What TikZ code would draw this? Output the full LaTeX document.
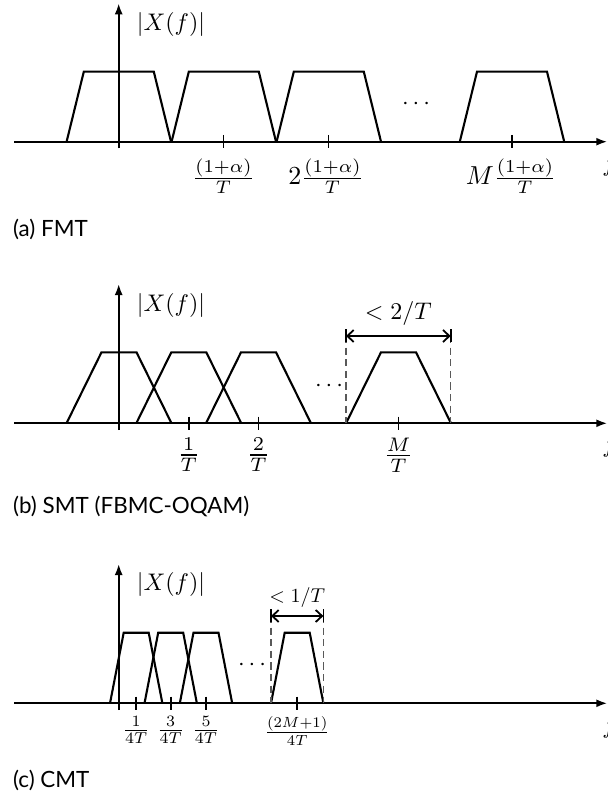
\documentclass[tikz,border=0pt]{standalone}
\usepackage{fontspec}
\newfontfamily\capfont{Lato}
\usetikzlibrary{arrows.meta}
\newcommand\myfs[1]{\fontsize{#1}{#1}\selectfont}
\tikzset{
  axisline/.style={line width=1pt,-{Latex[length=5.5pt,width=4pt]}},
  spec/.style={line width=1.05pt,line join=miter},
  tickline/.style={line width=0.9pt},
  dashline/.style={line width=0.7pt,draw=black!65,dash pattern=on 3.6pt off 2.2pt},
  dimline/.style={line width=0.9pt,{Straight Barb[length=3.2pt,width=6pt]}-{Straight Barb[length=3.2pt,width=6pt]}},
  barline/.style={line width=0.9pt},
  caption/.style={anchor=west,inner sep=0pt,font=\capfont\myfs{11.2}},
  lbl/.style={inner sep=0pt,scale=#1/10},
}
\begin{document}
\begin{tikzpicture}[x=0.5pt,y=-0.5pt]
\useasboundingbox (0,0) rectangle (608,796);
% ================= panel (a) =================
\draw[axisline] (14,141.7) -- (607.3,141.7);
\draw[axisline] (118.7,148.4) -- (118.7,3.3);
\node[lbl=12] (ya) at (171,25) {$|X(f)|$};
\node[lbl=12,anchor=west] (fa) at (602,166) {$f$};
\foreach \c in {118.8,223.8,328.8,512}{
  \draw[spec] (\c-52.2,141.7) -- (\c-35,71.7) -- (\c+35,71.7) -- (\c+52.2,141.7);
}
\foreach \c in {223.5,328.5,512}{
  \draw[tickline] (\c,135) -- (\c,148.4);
}
\node[lbl=13] (a1) at (223.5,176) {$\frac{(1+\alpha)}{T}$};
\node[lbl=13] (a2) at (326,176) {$2\frac{(1+\alpha)}{T}$};
\node[lbl=13] (a3) at (511,176) {$M\frac{(1+\alpha)}{T}$};
\node[lbl=12] (da) at (416,104) {$\cdots$};
\node[caption] (ca) at (12.7,229.3) {(a) FMT};
% ================= panel (b) =================
\draw[axisline] (14,423.3) -- (607.3,423.3);
\draw[axisline] (118.7,430) -- (118.7,284);
\node[lbl=12] (yb) at (171,305) {$|X(f)|$};
\node[lbl=12,anchor=west] (fb) at (602,446) {$f$};
\foreach \c in {119,188.8,258.5,398.5}{
  \draw[spec] (\c-52.5,423.3) -- (\c-17.5,352.3) -- (\c+17.5,352.3) -- (\c+52.5,423.3);
}
\foreach \c in {188.8,258.5,398.5}{
  \draw[tickline] (\c,416.6) -- (\c,430);
}
\node[lbl=14] (b1) at (188.8,455) {$\frac{1}{T}$};
\node[lbl=14] (b2) at (258.5,455) {$\frac{2}{T}$};
\node[lbl=14] (b3) at (398.5,455) {$\frac{M}{T}$};
\node[lbl=12] (db) at (329,386) {$\cdots$};
\coordinate (bl) at (346,336);
\coordinate (br) at (450.7,336);
\draw[dashline] (bl) -- (346,423.3);
\draw[dashline] (br) -- (450.7,423.3);
\draw[barline] (346,329.3) -- (346,341.9);
\draw[barline] (450.7,329.3) -- (450.7,341.9);
\draw[dimline] (bl) -- (br);
\node[lbl=12] (wb) at (398.3,313) {$<2/T$};
\node[caption] (cb) at (12.7,506.7) {(b) SMT (FBMC-OQAM)};
% ================= panel (c) =================
\draw[axisline] (14,703.3) -- (607.3,703.3);
\draw[axisline] (118.7,710) -- (118.7,564);
\node[lbl=12] (yc) at (171,584) {$|X(f)|$};
\node[lbl=12,anchor=west] (fc) at (602,727) {$f$};
\foreach \c in {136.2,170.7,206,297.2}{
  \draw[spec] (\c-26.2,703.3) -- (\c-12.5,632.7) -- (\c+12.5,632.7) -- (\c+26.2,703.3);
}
\foreach \c in {136.2,170.7,206,297.2}{
  \draw[tickline] (\c,696.6) -- (\c,710);
}
\node[lbl=11.3] (c1) at (136.2,730) {$\frac{1}{4T}$};
\node[lbl=11.3] (c2) at (170.7,730) {$\frac{3}{4T}$};
\node[lbl=11.3] (c3) at (206,730) {$\frac{5}{4T}$};
\node[lbl=10.5] (c4) at (297.2,731) {$\frac{(2M+1)}{4T}$};
\node[lbl=12] (dc) at (252,665) {$\cdots$};
\coordinate (cl) at (271,616);
\coordinate (cr) at (323.4,616);
\draw[dashline] (cl) -- (271,703.3);
\draw[dashline] (cr) -- (323.4,703.3);
\draw[barline] (271,609.3) -- (271,621.9);
\draw[barline] (323.4,609.3) -- (323.4,621.9);
\draw[dimline] (cl) -- (cr);
\node[lbl=10] (wc) at (297.2,597) {$<1/T$};
\node[caption] (cc) at (12.7,780) {(c) CMT};
\end{tikzpicture}
\end{document}
